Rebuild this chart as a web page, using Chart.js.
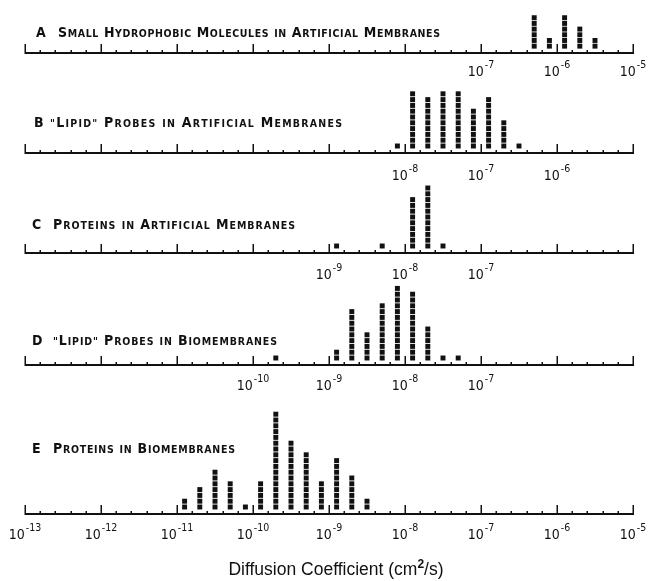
<!DOCTYPE html>
<html>
<head>
<meta charset="utf-8">
<script src="https://cdn.jsdelivr.net/npm/chart.js@4"></script>
<style>
  body { margin: 0; background: #fff; }
  #wrap { position: relative; width: 652px; height: 581px; }
  #wrap canvas { position: absolute; left: 0; top: 0; }
</style>
</head>
<body>
<div id="wrap">
  <canvas id="panelA" width="652" height="581"></canvas>
  <canvas id="panelB" width="652" height="581"></canvas>
  <canvas id="panelC" width="652" height="581"></canvas>
  <canvas id="panelD" width="652" height="581"></canvas>
  <canvas id="panelE" width="652" height="581"></canvas>
</div>
<script>
// log10 of the diffusion coefficient (bin centres) and number of measurements in each bin
const binsA = [-6.3, -6.1, -5.9, -5.7, -5.5];
const countsA = [6, 2, 6, 4, 2];
const binsB = [-8.1, -7.9, -7.7, -7.5, -7.3, -7.1, -6.9, -6.7, -6.5];
const countsB = [1, 10, 9, 10, 10, 7, 9, 5, 1];
const binsC = [-8.9, -8.3, -7.9, -7.7, -7.5];
const countsC = [1, 1, 9, 11, 1];
const binsD = [-9.7, -8.9, -8.7, -8.5, -8.3, -8.1, -7.9, -7.7, -7.5, -7.3];
const countsD = [1, 2, 9, 5, 10, 13, 12, 6, 1, 1];
const binsE = [-10.9, -10.7, -10.5, -10.3, -10.1, -9.9, -9.7, -9.5, -9.3, -9.1, -8.9, -8.7, -8.5];
const countsE = [2, 4, 7, 5, 1, 5, 17, 12, 10, 5, 9, 6, 2];

// decade exponents written under each axis
const labelsA = [-7, -6, -5];
const labelsB = [-8, -7, -6];
const labelsC = [-9, -8, -7];
const labelsD = [-10, -9, -8, -7];
const labelsE = [-13, -12, -11, -10, -9, -8, -7, -6, -5];

const titleA = 'Small Hydrophobic Molecules in Artificial Membranes';
const titleB = '"Lipid" Probes in Artificial Membranes';
const titleC = 'Proteins in Artificial Membranes';
const titleD = '"Lipid" Probes in Biomembranes';
const titleE = 'Proteins in Biomembranes';

const axisTitle = 'Diffusion Coefficient (cm';

const X_MIN = -13, X_MAX = -5;
const INK = '#111';
const PITCH = 5.8;      // px per stacked square
const BIG = 'bold 14px "DejaVu Sans Condensed", "DejaVu Sans", sans-serif';
const SMALL = 'bold 10.5px "DejaVu Sans Condensed", "DejaVu Sans", sans-serif';
const NUM = '14px "DejaVu Sans Condensed", "DejaVu Sans", sans-serif';
const EXP = '10.5px "DejaVu Sans Condensed", "DejaVu Sans", sans-serif';
const AX_FONT = '17.5px "Liberation Sans", Arial, sans-serif';
const AX_SUP = 'bold 12px "Liberation Sans", Arial, sans-serif';

function stack(bins, counts) {
  const pts = [];
  bins.forEach((b, i) => {
    for (let k = 0; k < counts[i]; k++) pts.push({ x: b, y: k });
  });
  return pts;
}

function drawTitle(ctx, p) {
  ctx.fillStyle = INK;
  ctx.textAlign = 'left';
  ctx.textBaseline = 'alphabetic';
  ctx.font = BIG;
  ctx.fillText(p.letter, p.letterX, p.titleY);
  const parts = [...p.title].map(ch => {
    const small = ch !== ch.toUpperCase() || ch === '"';
    return { ch: ch.toUpperCase(), font: small ? SMALL : BIG };
  });
  parts.forEach(pt => { ctx.font = pt.font; pt.w = ctx.measureText(pt.ch).width; });
  const natural = parts.reduce((s, pt) => s + pt.w, 0);
  const gap = (p.textEnd - p.textX - natural) / (parts.length - 1);
  let x = p.textX;
  parts.forEach(pt => {
    ctx.font = pt.font;
    ctx.fillText(pt.ch, x, p.titleY);
    x += pt.w + gap;
  });
}

const panelAxis = {
  id: 'panelAxis',
  afterDraw(chart, args, p) {
    const ctx = chart.ctx;
    const xs = chart.scales.x;
    const y0 = chart.chartArea.bottom;
    ctx.save();
    ctx.strokeStyle = INK;
    ctx.lineWidth = 2;
    ctx.beginPath();
    ctx.moveTo(xs.left, y0);
    ctx.lineTo(xs.right, y0);
    ctx.stroke();
    // ticks every 0.2 decade, longer at each decade
    ctx.lineWidth = 1.5;
    for (let k = 0; k <= (X_MAX - X_MIN) * 5; k++) {
      const x = Math.round(xs.getPixelForValue(X_MIN + k * 0.2)) + 0.25;
      const len = k % 5 === 0 ? 9 : 3;
      ctx.beginPath();
      ctx.moveTo(x, y0 + 1);
      ctx.lineTo(x, y0 - len);
      ctx.stroke();
    }
    // decade labels 10^n
    ctx.fillStyle = INK;
    ctx.textBaseline = 'alphabetic';
    ctx.textAlign = 'left';
    p.labels.forEach(e => {
      const cx = xs.getPixelForValue(e);
      const sup = '-' + Math.abs(e);
      ctx.font = NUM;
      const w1 = ctx.measureText('10').width;
      ctx.font = EXP;
      const w2 = ctx.measureText(sup).width;
      const left = cx - (w1 + w2 + 1) / 2;
      ctx.font = NUM;
      ctx.fillText('10', left, p.labelY);
      ctx.font = EXP;
      ctx.fillText(sup, left + w1 + 1, p.labelY - 8);
    });
    drawTitle(ctx, p);
    if (p.axisTitle) {
      ctx.font = AX_FONT;
      const a = ctx.measureText(axisTitle).width;
      const c = ctx.measureText('/s)').width;
      ctx.font = AX_SUP;
      const b = ctx.measureText('2').width;
      const x = 336 - (a + b + c) / 2;
      ctx.font = AX_FONT;
      ctx.fillText(axisTitle, x, 575);
      ctx.fillText('/s)', x + a + b, 575);
      ctx.font = AX_SUP;
      ctx.fillText('2', x + a, 568);
    }
    ctx.restore();
  }
};

function makePanel(id, bins, counts, opts) {
  const yMin = -7 / PITCH;
  new Chart(document.getElementById(id), {
    type: 'scatter',
    data: {
      datasets: [{
        data: stack(bins, counts),
        pointStyle: 'rect',
        pointRadius: 3.5,
        backgroundColor: INK,
        borderWidth: 0
      }]
    },
    options: {
      responsive: false,
      animation: false,
      events: [],
      layout: { padding: { left: 25, right: 19, top: opts.axisY - opts.areaH, bottom: 581 - opts.axisY } },
      scales: {
        x: { type: 'linear', min: X_MIN, max: X_MAX, display: false },
        y: { min: yMin, max: yMin + opts.areaH / PITCH, display: false }
      },
      plugins: { legend: { display: false }, tooltip: { enabled: false }, panelAxis: opts }
    },
    plugins: [panelAxis]
  });
}

makePanel('panelA', binsA, countsA, { axisY: 53, areaH: 50, labels: labelsA, labelY: 76, letter: 'A', title: titleA, letterX: 36, textX: 58, textEnd: 440, titleY: 37 });
makePanel('panelB', binsB, countsB, { axisY: 153, areaH: 80, labels: labelsB, labelY: 180, letter: 'B', title: titleB, letterX: 34, textX: 50, textEnd: 342, titleY: 127 });
makePanel('panelC', binsC, countsC, { axisY: 253, areaH: 80, labels: labelsC, labelY: 279, letter: 'C', title: titleC, letterX: 32, textX: 53, textEnd: 295, titleY: 229 });
makePanel('panelD', binsD, countsD, { axisY: 365, areaH: 90, labels: labelsD, labelY: 390, letter: 'D', title: titleD, letterX: 32, textX: 53, textEnd: 277, titleY: 345 });
makePanel('panelE', binsE, countsE, { axisY: 514, areaH: 112, labels: labelsE, labelY: 539, letter: 'E', title: titleE, letterX: 32, textX: 53, textEnd: 235, titleY: 453, axisTitle: true });
</script>
</body>
</html>
